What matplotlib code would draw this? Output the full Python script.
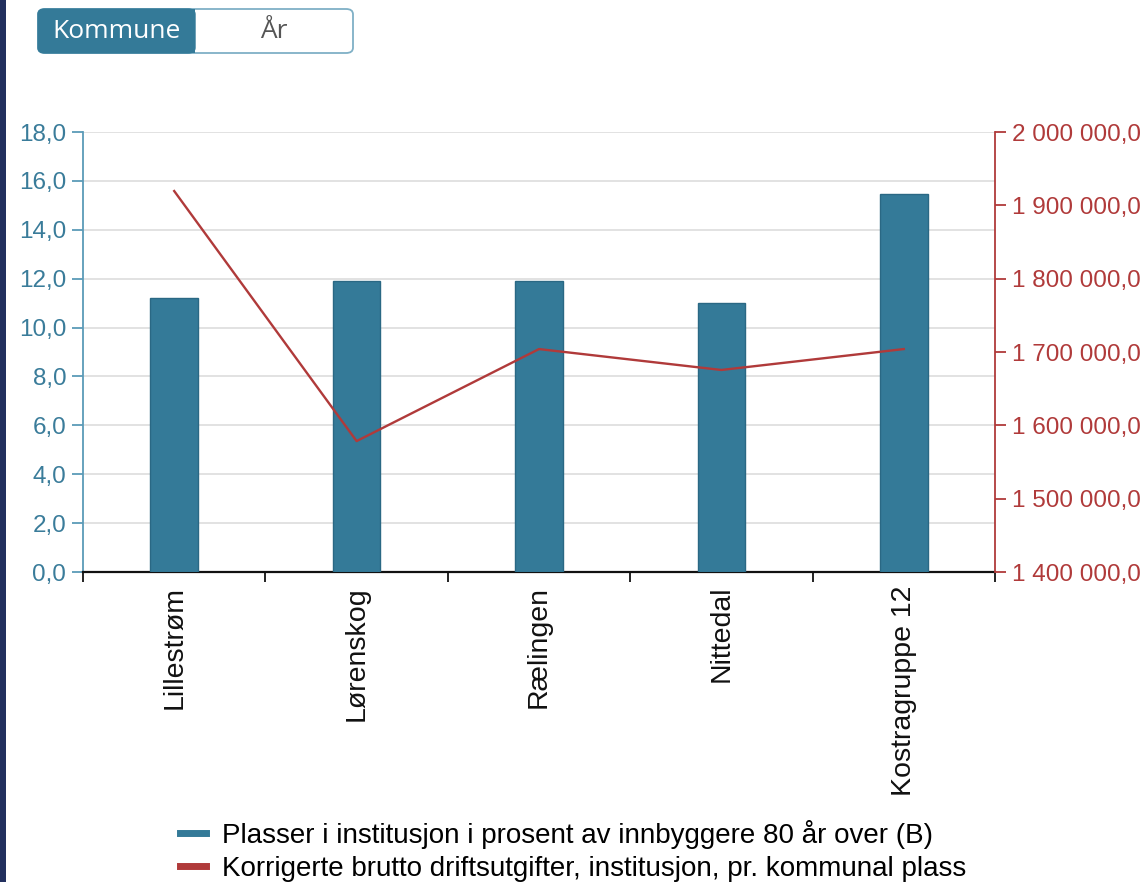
import matplotlib
matplotlib.use("Agg")
import matplotlib.pyplot as plt
from matplotlib.patches import FancyBboxPatch, Rectangle
from matplotlib.lines import Line2D
from matplotlib.ticker import FuncFormatter, MultipleLocator

plt.rcParams['font.family'] = ['Liberation Sans', 'DejaVu Sans']

# -----------------------------
# DATA
# -----------------------------
kommuner = ["Lillestrøm", "Lørenskog", "Rælingen", "Nittedal", "Kostragruppe 12"]
plasser_pst = [11.2, 11.9, 11.9, 11.0, 15.45]
utgifter_pr_plass = [1919500, 1578500, 1704000, 1675500, 1704000]

label_bar = "Plasser i institusjon i prosent av innbyggere 80 år over (B)"
label_line = "Korrigerte brutto driftsutgifter, institusjon, pr. kommunal plass"

# Colors
BLUE = "#347A98"
BLUE_EDGE = "#2A6884"
BLUE_AXIS = "#5B9BB8"
BLUE_TEXT = "#3A7C9A"
RED = "#B03A3A"
GRID = "#DDDDDD"


def no_fmt(v, pos=None):
    s = f"{v:,.1f}"
    return s.replace(",", " ").replace(".", ",")


W, H = 1143, 882
fig = plt.figure(figsize=(W / 100, H / 100), dpi=100)

ax = fig.add_axes([83 / W, 1 - 572 / H, (995 - 83) / W, (572 - 132) / H])
ax2 = ax.twinx()

x = list(range(len(kommuner)))
ax.bar(x, plasser_pst, width=0.26, color=BLUE, edgecolor=BLUE_EDGE,
       linewidth=1, zorder=3)
ax2.plot(x, utgifter_pr_plass, color=RED, linewidth=1.7, zorder=4)

ax.set_xlim(-0.5, len(kommuner) - 0.5)
ax.set_ylim(0, 18)
ax2.set_ylim(1400000, 2000000)

ax.yaxis.set_major_locator(MultipleLocator(2))
ax.yaxis.set_major_formatter(FuncFormatter(no_fmt))
ax2.yaxis.set_major_locator(MultipleLocator(100000))
ax2.yaxis.set_major_formatter(FuncFormatter(no_fmt))

ax.grid(axis="y", color=GRID, linewidth=1.2, zorder=0)
ax.set_axisbelow(True)

# category ticks at boundaries, labels centred
ax.set_xticks([i - 0.5 for i in range(len(kommuner) + 1)])
ax.set_xticklabels([])
ax.set_xticks(x, minor=True)
ax.set_xticklabels(kommuner, minor=True, rotation=90, fontsize=20.5,
                   color="#111111", va="top", ha="center")
ax.tick_params(axis="x", which="minor", length=0, pad=10)
ax.tick_params(axis="x", which="major", length=7, width=1.3, color="#111111")

ax.spines["top"].set_visible(False)
ax2.spines["top"].set_visible(False)
ax2.spines["left"].set_visible(False)
ax2.spines["bottom"].set_visible(False)
ax.spines["right"].set_visible(False)
ax.spines["bottom"].set_color("#111111")
ax.spines["bottom"].set_linewidth(1.6)
ax.spines["left"].set_color(BLUE_AXIS)
ax.spines["left"].set_linewidth(1.3)
ax2.spines["right"].set_color(RED)
ax2.spines["right"].set_linewidth(1.3)

ax.tick_params(axis="y", colors=BLUE_AXIS, labelcolor=BLUE_TEXT,
               labelsize=17.5, length=8, width=1.3, pad=4)
ax2.tick_params(axis="y", colors=RED, labelcolor=RED,
                labelsize=17.5, length=8, width=1.3, pad=4)

# legend
handles = [Line2D([0], [0], color=BLUE, linewidth=5),
           Line2D([0], [0], color=RED, linewidth=5)]
fig.legend(handles, [label_bar, label_line], loc="upper left",
           bbox_to_anchor=(166 / W, 1 - 806 / H), frameon=False,
           fontsize=20, handlelength=0.95, handletextpad=0.55,
           labelspacing=0.25, borderpad=0)

# left dark strip
fig.patches.append(Rectangle((0, 0), 6 / W, 1, transform=fig.transFigure,
                             facecolor="#22305E", edgecolor="none"))

# toggle buttons
bx0, bx1, bx2 = 38, 195, 353
by0, by1 = 9, 53
outer = FancyBboxPatch((bx0 / W, 1 - by1 / H), (bx2 - bx0) / W, (by1 - by0) / H,
                       boxstyle="round,pad=0,rounding_size=0.006",
                       transform=fig.transFigure, facecolor="white",
                       edgecolor="#7FB0C6", linewidth=1.3)
fig.patches.append(outer)
left_btn = FancyBboxPatch((bx0 / W, 1 - by1 / H), (bx1 - bx0) / W, (by1 - by0) / H,
                          boxstyle="round,pad=0,rounding_size=0.006",
                          transform=fig.transFigure, facecolor=BLUE,
                          edgecolor=BLUE, linewidth=1)
fig.patches.append(left_btn)
fig.patches.append(Rectangle(((bx1 - 8) / W, 1 - by1 / H), 8 / W, (by1 - by0) / H,
                             transform=fig.transFigure, facecolor=BLUE,
                             edgecolor="none"))
fig.text((bx0 + bx1) / 2 / W, 1 - (by0 + by1) / 2 / H, "Kommune",
         ha="center", va="center", color="white", fontsize=19,
         family=["Open Sans", "DejaVu Sans"])
fig.text((bx1 + bx2) / 2 / W, 1 - (by0 + by1) / 2 / H, "År",
         ha="center", va="center", color="#555555", fontsize=19,
         family=["Open Sans", "DejaVu Sans"])

fig.savefig("out.png", dpi=100)
